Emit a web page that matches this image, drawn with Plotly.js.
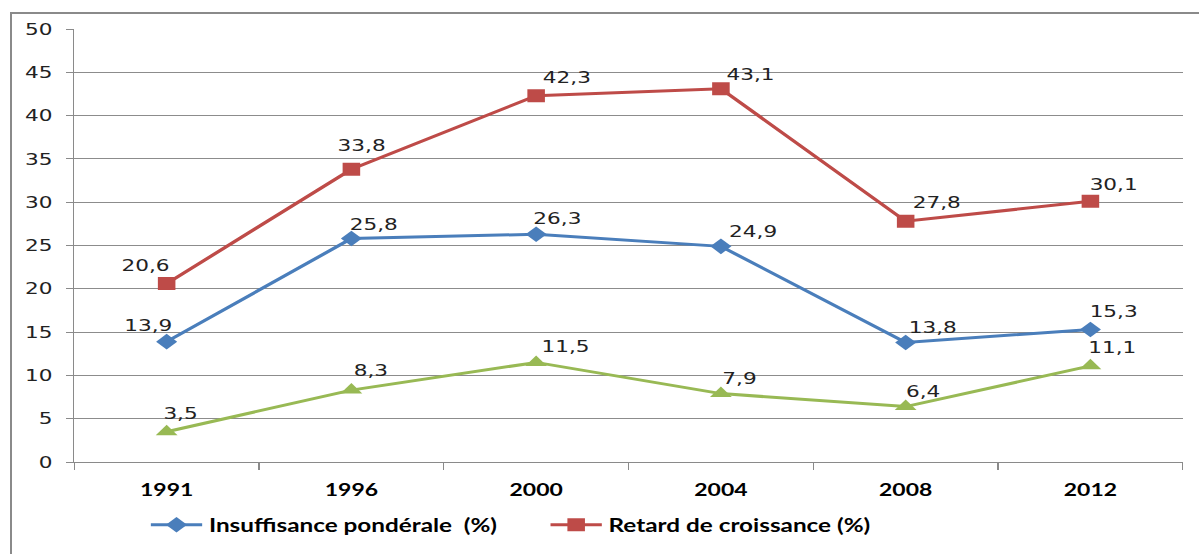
<!DOCTYPE html>
<html>
<head>
<meta charset="utf-8">
<script src="https://cdn.plot.ly/plotly-3.0.1.min.js"></script>
<style>
  html, body { margin: 0; padding: 0; width: 1199px; height: 554px; overflow: hidden; background: #fff; }
  #frame { position: absolute; left: 10px; top: 12px; width: 1400px; height: 700px; border: 2px solid #8a8a8a; box-sizing: border-box; }
  #chart { position: absolute; left: 0; top: 0; width: 888px; height: 554px; transform-origin: 0 0; }
</style>
</head>
<body>
<div id="frame"></div>
<div id="chart"></div>
<script>
const years = ['1991', '1996', '2000', '2004', '2008', '2012'];
const insuffisance = [13.9, 25.8, 26.3, 24.9, 13.8, 15.3];
const retard = [20.6, 33.8, 42.3, 43.1, 27.8, 30.1];
const emaciation = [3.5, 8.3, 11.5, 7.9, 6.4, 11.1];
const seriesNames = ['Insuffisance pondérale  (%)', 'Retard de croissance (%)', 'Émaciation (%)'];
const yTicks = [0, 5, 10, 15, 20, 25, 30, 35, 40, 45, 50];

const STRETCH = 1199 / 888;
const colors = ['#4a7ebb', '#be4b48', '#98b954'];
const symbols = ['diamond', 'square', 'triangle-up'];
const markerSizes = [12, 13, 14];
// label offsets (stretched pixels: right, up) per series per point
const labelShifts = [
  [[-18, 16], [22, 14], [21, 16], [32, 15], [27, 15], [24, 18]],
  [[-21, 18], [10, 24], [31, 18], [30, 14], [31, 19], [24, 17]],
  [[13, 18], [19, 20], [29, 16], [19, 15], [17, 15], [22, 18]]
];

const allValues = [insuffisance, retard, emaciation];
const traces = allValues.map((vals, i) => ({
  type: 'scatter',
  mode: 'lines+markers',
  x: years,
  y: vals,
  name: seriesNames[i],
  showlegend: i < 2,
  line: { color: colors[i], width: 3 },
  marker: { symbol: symbols[i], size: markerSizes[i], color: colors[i] }
}));

const annotations = [];
allValues.forEach((vals, i) => {
  vals.forEach((v, j) => {
    annotations.push({
      x: j, y: v, xref: 'x', yref: 'y',
      text: String(v).replace('.', ','),
      showarrow: false,
      xanchor: 'center', yanchor: 'middle',
      xshift: labelShifts[i][j][0] / STRETCH,
      yshift: labelShifts[i][j][1],
      font: { family: 'DejaVu Sans', size: 16, color: '#222222' }
    });
  });
});

const layout = {
  width: 888, height: 554,
  margin: { l: 55, r: 12, t: 29, b: 91 },
  paper_bgcolor: 'rgba(0,0,0,0)',
  plot_bgcolor: '#fff',
  showlegend: true,
  xaxis: {
    type: 'category',
    range: [-0.5, 5.5],
    showgrid: false,
    showline: true, linecolor: '#8a8a8a', linewidth: 1,
    ticks: 'outside', tickson: 'boundaries', ticklen: 7, tickcolor: '#8a8a8a',
    ticklabelstandoff: 13,
    tickfont: { family: 'Lato', size: 17, color: '#000', weight: 'bold' },
    zeroline: false
  },
  yaxis: {
    range: [0, 50],
    tickvals: yTicks,
    ticktext: yTicks.map(String),
    showgrid: true, gridcolor: '#8c8c8c', gridwidth: 1,
    showline: true, linecolor: '#8a8a8a', linewidth: 1,
    ticks: 'outside', ticklen: 5, tickcolor: '#8a8a8a',
    ticklabelstandoff: 7,
    tickfont: { family: 'DejaVu Sans', size: 16, color: '#222' },
    zeroline: false
  },
  legend: {
    orientation: 'h',
    x: 0.063, xanchor: 'left',
    y: -0.143, yanchor: 'middle',
    font: { family: 'Lato', size: 18, color: '#000', weight: 'bold' },
    itemwidth: 38,
    entrywidth: 243,
    bgcolor: 'rgba(0,0,0,0)'
  },
  annotations: annotations
};

document.getElementById('chart').style.transform = 'scaleX(' + STRETCH + ')';
Plotly.newPlot('chart', traces, layout, { displayModeBar: false, staticPlot: true });
</script>
</body>
</html>
